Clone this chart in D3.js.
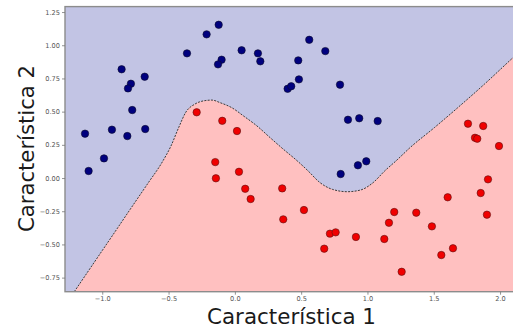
<!DOCTYPE html>
<html>
<head>
<meta charset="utf-8">
<script src="https://cdn.jsdelivr.net/npm/d3@7"></script>
<style>
  html, body { margin: 0; padding: 0; background: #ffffff; }
  svg { display: block; }
  text { font-family: "DejaVu Sans", sans-serif; }
</style>
</head>
<body>
<svg id="chart" width="513" height="332"></svg>
<script>
// Class 0 samples (upper moon)
const class0X = [-0.854, -0.680, -0.784, -0.806, -0.774, -1.130, -0.927, -0.811, -0.676,
  -0.122, -0.213, -0.361, 0.051, 0.174, 0.192, -0.100, -0.127, 0.398, 0.425,
  0.561, 0.682, 0.478, 0.483, 0.793, 0.853, 0.938, 1.077, -0.987, -1.103,
  0.798, 0.928, 0.991];
const class0Y = [0.819, 0.763, 0.710, 0.675, 0.512, 0.334, 0.364, 0.316, 0.369,
  1.154, 1.082, 0.939, 0.962, 0.939, 0.879, 0.891, 0.856, 0.672, 0.691,
  1.041, 0.956, 0.886, 0.743, 0.703, 0.439, 0.450, 0.429, 0.148, 0.053,
  0.030, 0.096, 0.126];

// Class 1 samples (lower moon)
const class1X = [-0.288, -0.095, 0.016, 1.758, 1.873, 1.811, 1.828, 1.992,
  -0.148, 0.031, -0.143, 0.078, 0.119, 0.357, 0.365, 0.521, 0.717, 0.760,
  0.913, 0.674, 1.127, 1.162, 1.202, 1.258, 1.909, 1.854, 1.605, 1.368,
  1.901, 1.486, 1.645, 1.557];
const class1Y = [0.495, 0.431, 0.354, 0.409, 0.392, 0.303, 0.296, 0.241,
  0.120, 0.047, -0.002, -0.081, -0.158, -0.078, -0.311, -0.241, -0.419, -0.409,
  -0.444, -0.532, -0.459, -0.337, -0.256, -0.706, -0.010, -0.113, -0.145, -0.261,
  -0.276, -0.364, -0.529, -0.580];

// Decision boundary (level set separating the two predicted regions)
const boundaryX = [-1.211, -1.030, -0.904, -0.778, -0.653, -0.552, -0.482, -0.422,
  -0.369, -0.301, -0.225, -0.173, -0.110, -0.022, 0.066, 0.167, 0.267, 0.355,
  0.483, 0.559, 0.634, 0.735, 0.848, 0.949, 1.036, 1.137, 1.213, 1.328,
  1.504, 1.680, 1.881, 2.097, 2.140];
const boundaryY = [-0.856, -0.590, -0.405, -0.219, -0.036, 0.113, 0.241, 0.384,
  0.497, 0.557, 0.583, 0.587, 0.567, 0.529, 0.467, 0.392, 0.303, 0.226,
  0.118, 0.047, -0.028, -0.085, -0.103, -0.090, -0.040, 0.060, 0.127, 0.235,
  0.379, 0.529, 0.706, 0.906, 0.945];

const xTicks = [-1.0, -0.5, 0.0, 0.5, 1.0, 1.5, 2.0];
const yTicks = [-0.75, -0.50, -0.25, 0.00, 0.25, 0.50, 0.75, 1.00, 1.25];

const xLabel = "Característica 1";
const yLabel = "Característica 2";

const svg = d3.select("#chart");

const xDomain = [-1.281, 2.115];
const yDomain = [-0.856, 1.291];
const plot = { left: 65, top: 6.6, bottom: 291.7 };
const pxPerUnit = 132.6;

const x = d3.scaleLinear().domain(xDomain)
  .range([plot.left, plot.left + (xDomain[1] - xDomain[0]) * pxPerUnit]);
const y = d3.scaleLinear().domain(yDomain).range([plot.bottom, plot.top]);

const x0 = x(xDomain[0]), x1 = x(xDomain[1]);
const y0 = y(yDomain[1]), y1 = y(yDomain[0]);

svg.append("clipPath").attr("id", "plotClip")
  .append("rect").attr("x", x0).attr("y", y0)
  .attr("width", x1 - x0).attr("height", y1 - y0);

const area = svg.append("g").attr("clip-path", "url(#plotClip)");

// Region predicted as class 0
area.append("rect")
  .attr("x", x0).attr("y", y0)
  .attr("width", x1 - x0).attr("height", y1 - y0)
  .attr("fill", "#c2c4e4");

const boundary = boundaryX.map((v, i) => [v, boundaryY[i]]);

// Region predicted as class 1: below the boundary curve
const curveLine = d3.line()
  .x(d => x(d[0])).y(d => y(d[1]))
  .curve(d3.curveMonotoneX);
const boundaryPath = curveLine(boundary);
area.append("path")
  .attr("d", boundaryPath + "L" + x(2.2) + "," + y(0.945) + "L" + x(2.2) + "," + y(-1.0) +
    "L" + x(-1.3) + "," + y(-1.0) + "Z")
  .attr("fill", "#ffc0c0");

area.append("path")
  .attr("d", boundaryPath)
  .attr("fill", "none")
  .attr("stroke", "#3a3a3a")
  .attr("stroke-width", 1)
  .attr("stroke-dasharray", "2,1.3");

// Samples
area.selectAll("circle.c0")
  .data(class0X.map((v, i) => [v, class0Y[i]]))
  .join("circle")
  .attr("class", "c0")
  .attr("cx", d => x(d[0])).attr("cy", d => y(d[1]))
  .attr("r", 3.7)
  .attr("fill", "#00007e")
  .attr("stroke", "#0a0a2a")
  .attr("stroke-width", 0.6);

area.selectAll("circle.c1")
  .data(class1X.map((v, i) => [v, class1Y[i]]))
  .join("circle")
  .attr("class", "c1")
  .attr("cx", d => x(d[0])).attr("cy", d => y(d[1]))
  .attr("r", 3.7)
  .attr("fill", "#f00000")
  .attr("stroke", "#5a1010")
  .attr("stroke-width", 0.6);

// Frame
svg.append("rect")
  .attr("x", x0).attr("y", y0)
  .attr("width", x1 - x0).attr("height", y1 - y0)
  .attr("fill", "none")
  .attr("stroke", "#8c8c8c")
  .attr("stroke-width", 1.4);

// Axes
const xAxis = svg.append("g")
  .attr("transform", `translate(0,${y1})`)
  .call(d3.axisBottom(x).tickValues(xTicks).tickFormat(d3.format(".1f"))
    .tickSize(3).tickPadding(2));
const yAxis = svg.append("g")
  .attr("transform", `translate(${x0},0)`)
  .call(d3.axisLeft(y).tickValues(yTicks).tickFormat(d3.format(".2f"))
    .tickSize(3).tickPadding(2));

[xAxis, yAxis].forEach(g => {
  g.select(".domain").remove();
  g.selectAll(".tick line").attr("stroke", "#777").attr("stroke-width", 0.8);
  g.selectAll(".tick text")
    .attr("fill", "#555")
    .style("font-size", "6.6px")
    .style("font-family", "DejaVu Sans, sans-serif");
});

// Axis titles
svg.append("text")
  .attr("x", 291.5).attr("y", 324)
  .attr("text-anchor", "middle")
  .attr("textLength", 169)
  .attr("lengthAdjust", "spacingAndGlyphs")
  .style("font-size", "22px")
  .attr("fill", "#1a1a1a")
  .text(xLabel);

svg.append("text")
  .attr("transform", "translate(34,148.5) rotate(-90)")
  .attr("text-anchor", "middle")
  .attr("textLength", 167)
  .attr("lengthAdjust", "spacingAndGlyphs")
  .style("font-size", "22px")
  .attr("fill", "#1a1a1a")
  .text(yLabel);
</script>
</body>
</html>
